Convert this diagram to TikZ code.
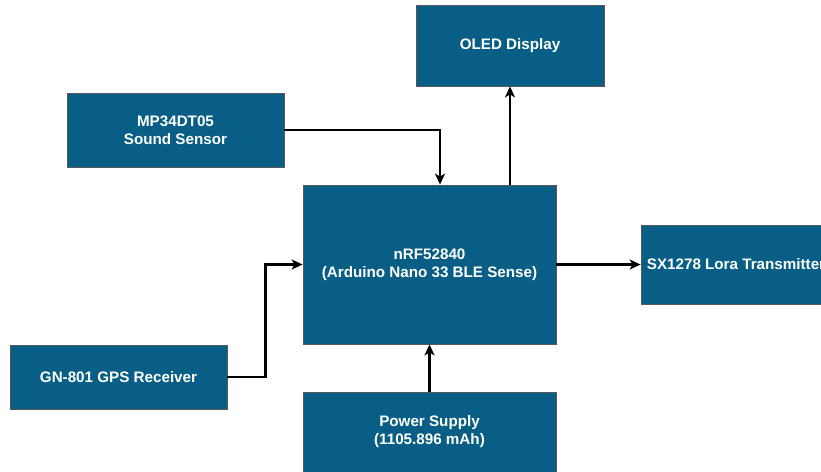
\documentclass[tikz,border=0pt]{standalone}
\usepackage{fontspec}
\setmainfont{Liberation Sans}
\usetikzlibrary{arrows.meta}
\definecolor{boxblue}{RGB}{8,94,132}

\begin{document}
\begin{tikzpicture}[x=1pt,y=-1pt,>={Stealth[length=11pt,width=10pt,inset=3pt]},line width=2.2pt,font=\bfseries\fontsize{15.2}{18}\selectfont]
\tikzset{blk/.style={fill=boxblue,draw=black!65,line width=0.8pt,text=white,align=center,inner sep=0pt}}
\useasboundingbox (0,0) rectangle (821,471);
\node[blk,minimum width=188pt,minimum height=81pt] (oled) at (510,45.5) {OLED Display};
\node[blk,minimum width=217pt,minimum height=74pt] (mic) at (175.5,130) {MP34DT05\\Sound Sensor};
\node[blk,minimum width=253pt,minimum height=159pt] (nrf) at (429.5,264.5) {nRF52840\\(Arduino Nano 33 BLE Sense)};
\node[blk,minimum width=190pt,minimum height=79pt] (lora) at (736,264.5) {SX1278 Lora Transmitter};
\node[blk,minimum width=217pt,minimum height=64pt] (gps) at (118.5,377) {GN-801 GPS Receiver};
\node[blk,minimum width=253pt,minimum height=80pt] (pwr) at (429.5,432) {Power Supply\\(1105.896 mAh)};
\draw[->] (mic.east) -| ([xshift=10.5pt]nrf.north);
\draw[->] (nrf.north -| oled.south) -- (oled.south);
\draw[->] (gps.east) -- ++(38,0) |- (nrf.west);
\draw[->] (nrf.east) -- (lora.west);
\draw[->] (pwr.north) -- (pwr.north |- nrf.south);
\end{tikzpicture}
\end{document}
